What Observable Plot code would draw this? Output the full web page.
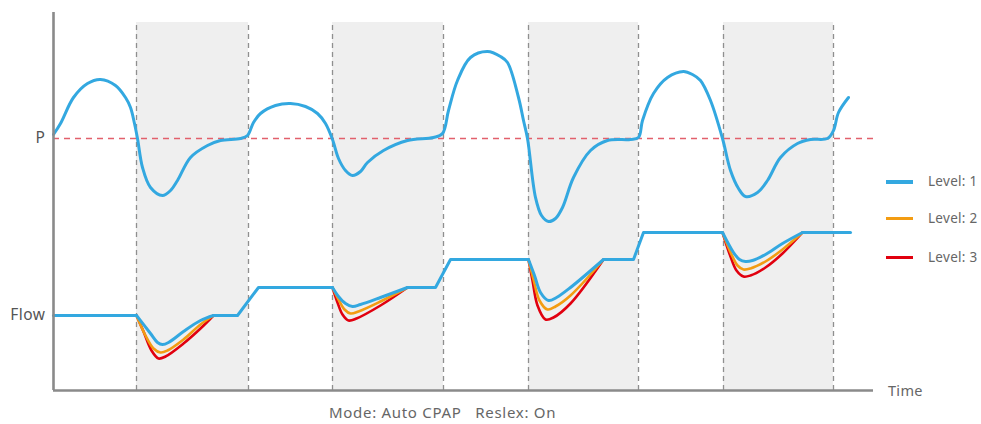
<!DOCTYPE html>
<html>
<head>
<meta charset="utf-8">
<script src="https://cdn.jsdelivr.net/npm/d3@7"></script>
<script src="https://cdn.jsdelivr.net/npm/@observablehq/plot@0.6"></script>
<style>
  html, body { margin: 0; padding: 0; background: #fff; }
  #wrap { position: relative; width: 981px; height: 424px; font-family: "Noto Sans", sans-serif; color: #666; }
  #wrap svg { position: absolute; left: 0; top: 0; }
  .legend { position: absolute; left: 886px; font-size: 13.5px; color: #666; letter-spacing: 0.3px; }
  .legend .item { position: absolute; left: 0; width: 100px; height: 20px; }
  .legend .swatch { position: absolute; left: 0; width: 27px; top: 9px; }
  .legend .lab { position: absolute; left: 42px; top: 0; line-height: 20px; white-space: nowrap; }
  .timeLabel { position: absolute; left: 888px; top: 380px; font-size: 14.5px; color: #666; letter-spacing: 0.3px; }
  .caption { position: absolute; left: 329px; top: 402px; font-size: 15px; letter-spacing: 0.7px; color: #666; white-space: pre; }
</style>
</head>
<body>
<div id="wrap"></div>
<script>
// ---- Data (time units, signal units) ----
const timeDomain = [0, 820];
const valueDomain = [0, 378];
const bandTop = 368;
const bands = [[83, 195], [279, 390], [475, 585], [670, 780]];
const pLevel = 252;
const pLevelEnd = 823;
const yTickValues = [75, 252];
const yTickLabels = ["Flow", "P"];
const levels = ["Level: 1", "Level: 2", "Level: 3"];
const levelColors = ["#33a8e0", "#f39c12", "#e1000f"];

// Pressure curve
const pT = [0, 7, 20, 34, 47, 62, 72, 77, 81, 84, 89, 97, 109, 117, 124, 137, 154, 167, 187, 194, 200, 207, 222, 237, 252, 264, 272, 279, 285, 292, 299, 307, 314, 330, 354, 380, 389, 395, 404, 417, 434, 447, 454, 465, 470, 474, 482, 488, 495, 502, 509, 520, 537, 554, 577, 585, 589, 600, 614, 630, 639, 647, 657, 669, 677, 685, 692, 704, 714, 727, 744, 757, 774, 780, 785, 795];
const pV = [256, 267, 293, 307, 311, 305, 293, 283, 267, 252, 223, 203, 195, 200, 210, 233, 245, 250, 252, 255, 268, 277, 285, 287, 284, 277, 267, 251, 232, 220, 215, 219, 228, 240, 250, 253, 257, 280, 310, 333, 339, 334, 328, 293, 270, 252, 193, 175, 169, 172, 183, 213, 240, 250, 251, 253, 270, 297, 313, 319, 316, 310, 290, 252, 220, 202, 194, 198, 210, 233, 247, 251, 252, 260, 278, 293];

// Flow baseline (Level 1 outside the dips), segments
const flowSegT = [[0, 83], [160, 184, 205, 279], [354, 382, 397, 475], [550, 580, 590, 669], [749, 797]];
const flowSegV = [[75, 75], [75, 75, 103, 103], [103, 103, 131, 131], [131, 131, 158, 158], [158, 158]];

// Flow dips for each level
const dipT = {
  "Level: 1": [[83, 97, 104, 109, 115, 130, 147, 160], [279, 285, 292, 299, 307, 327, 354], [475, 481, 487, 495, 503, 517, 550], [669, 680, 686, 692, 699, 712, 729, 749]],
  "Level: 2": [[83, 92, 100, 107, 114, 130, 147, 160], [279, 285, 291, 297, 305, 327, 354], [475, 480, 486, 494, 502, 517, 550], [669, 678, 684, 690, 697, 712, 729, 749]],
  "Level: 3": [[83, 90, 98, 105, 112, 130, 147, 160], [279, 284, 289, 295, 303, 327, 354], [475, 479, 484, 492, 500, 517, 550], [669, 677, 683, 690, 697, 712, 729, 749]]
};
const dipV = {
  "Level: 1": [[75, 57, 48, 46, 48, 59, 70, 75], [103, 94, 87, 84, 86, 93, 103], [131, 115, 98, 90, 93, 103, 131], [158, 138, 131, 129, 130, 136, 147, 158]],
  "Level: 2": [[75, 55, 42, 38, 40, 51, 66, 75], [103, 91, 81, 77, 79, 89, 103], [131, 111, 90, 81, 84, 95, 131], [158, 136, 125, 121, 122, 129, 141, 158]],
  "Level: 3": [[75, 59, 40, 32, 34, 47, 62, 75], [103, 88, 76, 70, 72, 85, 103], [131, 110, 85, 71, 73, 87, 131], [158, 134, 120, 114, 115, 123, 137, 158]]
};

// ---- Build tables ----
const pData = pT.map((t, i) => ({t, v: pV[i]}));
const flowData = flowSegT.flatMap((ts, s) => ts.map((t, i) => ({t, v: flowSegV[s][i], seg: s})));
const dipData = levels.flatMap(lv => dipT[lv].flatMap((ts, d) => ts.map((t, i) => ({t, v: dipV[lv][d][i], level: lv, dip: lv + d}))));
const bandData = bands.map(([a, b]) => ({a, b}));
const edges = bands.flat();

const blue = levelColors[0];
const dipLine = lv => Plot.line(dipData.filter(d => d.level === lv), {
  x: "t", y: "v", z: "dip", stroke: levelColors[levels.indexOf(lv)],
  strokeWidth: lv === levels[0] ? 3 : 2.6, curve: "catmull-rom"
});

const chart = Plot.plot({
  width: 981,
  height: 424,
  marginLeft: 53,
  marginRight: 108,
  marginTop: 12,
  marginBottom: 34,
  style: {fontFamily: "'Noto Sans', sans-serif", fontSize: "15.5px", color: "#555", background: "transparent", letterSpacing: "0.5px"},
  x: {domain: timeDomain, axis: null},
  y: {domain: valueDomain, axis: null},
  marks: [
    Plot.rect(bandData, {x1: "a", x2: "b", y1: 0, y2: bandTop, fill: "#efefef"}),
    Plot.ruleX(edges, {y1: 0, y2: bandTop, stroke: "#8f8f8f", strokeWidth: 1.3, strokeDasharray: "5,4"}),
    Plot.ruleY([pLevel], {x1: 0, x2: pLevelEnd, stroke: "#e2606c", strokeWidth: 1.3, strokeDasharray: "6,5"}),
    Plot.line(pData, {x: "t", y: "v", stroke: blue, strokeWidth: 3, curve: "catmull-rom"}),
    dipLine(levels[2]),
    dipLine(levels[1]),
    Plot.line(flowData, {x: "t", y: "v", z: "seg", stroke: blue, strokeWidth: 3}),
    dipLine(levels[0]),
    Plot.axisY({ticks: yTickValues, tickFormat: d => yTickLabels[yTickValues.indexOf(d)], tickSize: 0, tickPadding: 8, label: null, fill: "#555"}),
    Plot.ruleX([0], {y1: 0, y2: valueDomain[1], stroke: "#8a8a8a", strokeWidth: 2.6}),
    Plot.ruleY([0], {x1: 0, x2: timeDomain[1], stroke: "#8a8a8a", strokeWidth: 2.6})
  ]
});

const wrap = document.getElementById("wrap");
wrap.appendChild(chart);

// Legend
const legend = document.createElement("div");
legend.className = "legend";
const legendTops = [171, 208, 247];
levels.forEach((lv, i) => {
  const item = document.createElement("div");
  item.className = "item";
  item.style.top = legendTops[i] + "px";
  const sw = document.createElement("div");
  sw.className = "swatch";
  sw.style.background = levelColors[i];
  sw.style.height = (i === 0 ? 3.5 : 3) + "px";
  const lab = document.createElement("div");
  lab.className = "lab";
  lab.textContent = lv;
  item.appendChild(sw);
  item.appendChild(lab);
  legend.appendChild(item);
});
wrap.appendChild(legend);

const tl = document.createElement("div");
tl.className = "timeLabel";
tl.textContent = "Time";
wrap.appendChild(tl);

const cap = document.createElement("div");
cap.className = "caption";
cap.textContent = "Mode: Auto CPAP   Reslex: On";
wrap.appendChild(cap);
</script>
</body>
</html>
